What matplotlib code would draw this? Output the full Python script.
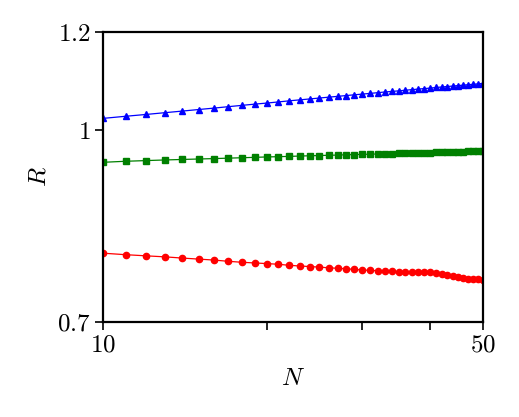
import matplotlib
matplotlib.use("Agg")
import matplotlib.pyplot as plt
from matplotlib.ticker import FixedLocator, NullLocator, NullFormatter, FixedFormatter

plt.rcParams['mathtext.fontset'] = 'cm'
plt.rcParams['font.family'] = 'serif'
plt.rcParams['font.serif'] = ['cmr10', 'DejaVu Serif']
plt.rcParams['axes.formatter.use_mathtext'] = True

N = list(range(10, 51))

R_blue = [1.0220, 1.0260, 1.0295, 1.0329, 1.0360, 1.0390, 1.0417, 1.0445, 1.0470, 1.0494,
          1.0515, 1.0537, 1.0559, 1.0578, 1.0596, 1.0614, 1.0631, 1.0647, 1.0663, 1.0678,
          1.0692, 1.0706, 1.0720, 1.0734, 1.0745, 1.0757, 1.0769, 1.0781, 1.0792, 1.0802,
          1.0812, 1.0824, 1.0834, 1.0844, 1.0853, 1.0863, 1.0871, 1.0881, 1.0888, 1.0898,
          1.0906]

R_green = [0.9419, 0.9437, 0.9449, 0.9460, 0.9469, 0.9477, 0.9484, 0.9492, 0.9499, 0.9506,
           0.9513, 0.9518, 0.9523, 0.9529, 0.9534, 0.9538, 0.9543, 0.9546, 0.9552, 0.9555,
           0.9559, 0.9562, 0.9566, 0.9569, 0.9573, 0.9576, 0.9580, 0.9584, 0.9585, 0.9589,
           0.9592, 0.9594, 0.9598, 0.9601, 0.9603, 0.9607, 0.9608, 0.9612, 0.9614, 0.9617,
           0.9619]

R_red = [0.7955, 0.7933, 0.7916, 0.7901, 0.7883, 0.7868, 0.7854, 0.7836, 0.7822, 0.7812,
         0.7803, 0.7793, 0.7778, 0.7768, 0.7760, 0.7752, 0.7742, 0.7735, 0.7728, 0.7719,
         0.7710, 0.7705, 0.7699, 0.7694, 0.7690, 0.7687, 0.7684, 0.7683, 0.7681, 0.7678,
         0.7676, 0.7663, 0.7647, 0.7632, 0.7619, 0.7607, 0.7597, 0.7589, 0.7583, 0.7579,
         0.7574]

x_major = [10, 50]
x_minor = [20, 30, 40]
y_ticks = [0.7, 1.0, 1.2]
y_labels = ['$0.7$', '$1$', '$1.2$']
x_labels = ['$10$', '$50$']

fig = plt.figure(figsize=(5.19, 4.17), dpi=100)
ax = fig.add_axes([103/519, 1-322/417, 380/519, 290/417])

ax.plot(N, R_blue, color='blue', marker='^', markersize=4.5, linewidth=0.9)
ax.plot(N, R_green, color='green', marker='s', markersize=4.2, linewidth=0.9)
ax.plot(N, R_red, color='red', marker='o', markersize=4.5, linewidth=0.9)

ax.set_xscale('log')
ax.set_yscale('log')
ax.set_xlim(10, 50)
ax.set_ylim(0.7, 1.2)

ax.xaxis.set_major_locator(FixedLocator(x_major))
ax.xaxis.set_major_formatter(FixedFormatter(x_labels))
ax.xaxis.set_minor_locator(FixedLocator(x_minor))
ax.xaxis.set_minor_formatter(NullFormatter())
ax.yaxis.set_major_locator(FixedLocator(y_ticks))
ax.yaxis.set_major_formatter(FixedFormatter(y_labels))
ax.yaxis.set_minor_locator(NullLocator())

ax.tick_params(which='both', direction='out', length=6, width=1.2, labelsize=18, pad=3)
for s in ax.spines.values():
    s.set_linewidth(1.6)

ax.set_xlabel('$N$', fontsize=18, labelpad=8)
ax.set_ylabel('$R$', fontsize=18, labelpad=5)

fig.savefig('out.png', dpi=100)
